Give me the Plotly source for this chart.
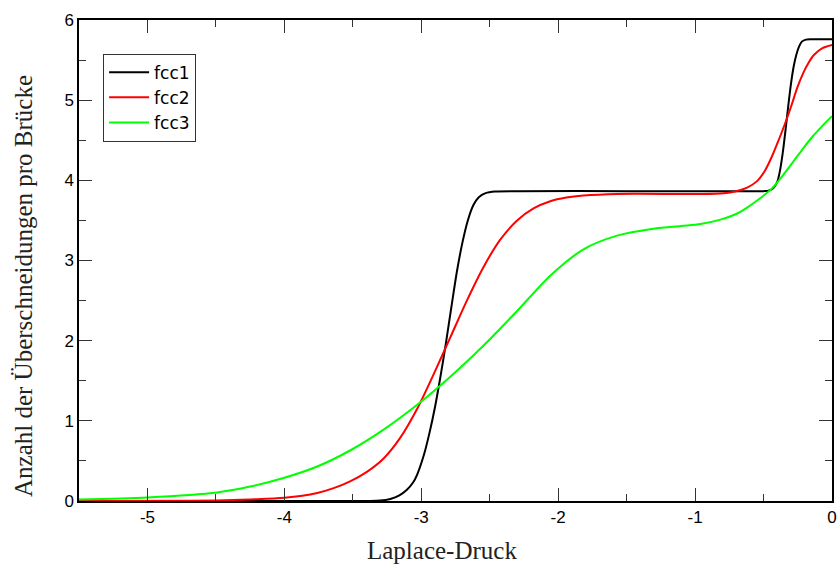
import plotly.graph_objects as go

# Laplace pressure samples and bridge crossing counts for three fcc packings
fcc1_x = [-5.5, -4.0, -3.4, -3.3, -3.226, -3.16, -3.105, -3.06, -3.03, -2.98, -2.94,
          -2.90, -2.86, -2.82, -2.78, -2.74, -2.70, -2.66, -2.62, -2.58, -2.53, -2.46,
          -2.3, -1.5, -0.6, -0.5, -0.463, -0.43, -0.40, -0.38, -0.36, -0.34, -0.32,
          -0.30, -0.28, -0.26, -0.24, -0.22, -0.19, -0.15, 0.0]
fcc1_y = [0.0, 0.0, 0.001, 0.005, 0.025, 0.07, 0.14, 0.23, 0.33, 0.58, 0.85,
          1.17, 1.55, 1.97, 2.42, 2.86, 3.22, 3.50, 3.69, 3.79, 3.84, 3.86,
          3.865, 3.865, 3.865, 3.865, 3.87, 3.90, 3.98, 4.12, 4.34, 4.62, 4.92,
          5.20, 5.42, 5.57, 5.67, 5.73, 5.755, 5.76, 5.76]

fcc2_x = [-5.5, -4.8, -4.5, -4.25, -4.0, -3.76, -3.64, -3.52, -3.40, -3.275, -3.153,
          -3.03, -2.91, -2.788, -2.667, -2.545, -2.423, -2.30, -2.18, -2.058, -1.94,
          -1.815, -1.57, -0.96, -0.79, -0.70, -0.62, -0.547, -0.49, -0.438, -0.39,
          -0.336, -0.295, -0.255, -0.207, -0.17, -0.134, -0.07, 0.0]
fcc2_y = [0.0, 0.002, 0.007, 0.02, 0.04, 0.10, 0.16, 0.245, 0.36, 0.53, 0.79,
          1.15, 1.58, 2.04, 2.50, 2.92, 3.26, 3.50, 3.65, 3.74, 3.785,
          3.81, 3.83, 3.83, 3.84, 3.865, 3.91, 3.99, 4.12, 4.30, 4.50,
          4.74, 4.94, 5.15, 5.35, 5.47, 5.56, 5.65, 5.69]

fcc3_x = [-5.5, -5.0, -4.49, -4.25, -4.0, -3.76, -3.52, -3.275, -3.03, -2.788, -2.545,
          -2.30, -2.058, -1.815, -1.57, -1.33, -1.1, -0.96, -0.815, -0.70, -0.62,
          -0.53, -0.438, -0.36, -0.28, -0.21, -0.14, -0.07, 0.0]
fcc3_y = [0.02, 0.045, 0.107, 0.18, 0.29, 0.43, 0.63, 0.89, 1.20, 1.55, 1.94,
          2.37, 2.81, 3.14, 3.31, 3.39, 3.43, 3.455, 3.51, 3.58, 3.66,
          3.77, 3.90, 4.06, 4.24, 4.40, 4.55, 4.68, 4.80]

series = [
    ("fcc1", fcc1_x, fcc1_y, "#000000"),
    ("fcc2", fcc2_x, fcc2_y, "#ff0000"),
    ("fcc3", fcc3_x, fcc3_y, "#00ff00"),
]

x_ticks = [-5, -4, -3, -2, -1, 0]
y_ticks = [0, 1, 2, 3, 4, 5, 6]
x_title = "Laplace-Druck"
y_title = "Anzahl der Überschneidungen pro Brücke"

fig = go.Figure()
for name, xs, ys, color in series:
    fig.add_trace(go.Scatter(
        x=xs, y=ys, name=name, mode="lines",
        line=dict(color=color, width=2, shape="spline", smoothing=0.8),
    ))

serif = "Liberation Serif"
sans = "Liberation Sans"

axis_common = dict(
    showgrid=False, zeroline=False,
    showline=True, linecolor="black", linewidth=1.5,
    mirror="ticks", ticks="inside", ticklen=13, tickwidth=1, tickcolor="#333333",
    tickfont=dict(family=sans, size=17, color="black"),
)

fig.update_xaxes(
    range=[-5.5, 0], tickvals=x_ticks, ticktext=[str(v) for v in x_ticks],
    minor=dict(dtick=0.5, ticks="inside", ticklen=7, tickwidth=1, tickcolor="#333333"),
    **axis_common,
)
fig.update_yaxes(
    range=[0, 6], tickvals=y_ticks, ticktext=[str(v) for v in y_ticks],
    minor=dict(dtick=0.5, ticks="inside", ticklen=7, tickwidth=1, tickcolor="#333333"),
    **axis_common,
)

# axis titles placed as paper-anchored text
fig.add_annotation(
    text=x_title, xref="paper", yref="paper", x=0.4816, y=-0.103,
    xanchor="center", yanchor="middle", showarrow=False,
    font=dict(family=serif, size=25, color="#222222"),
)
fig.add_annotation(
    text=y_title, xref="paper", yref="paper", x=-0.073, y=0.447,
    xanchor="center", yanchor="middle", textangle=-90, showarrow=False,
    font=dict(family=serif, size=25, color="#222222"),
)

fig.update_layout(
    width=840, height=565,
    margin=dict(l=79, r=8, t=20, b=64, autoexpand=False),
    paper_bgcolor="white", plot_bgcolor="white",
    showlegend=True,
    legend=dict(
        x=0.032, y=0.93, xanchor="left", yanchor="top",
        bgcolor="white", bordercolor="#333333", borderwidth=1,
        font=dict(family="DejaVu Sans", size=17, color="black"),
        itemwidth=40, tracegroupgap=0,
    ),
)

fig.write_html("out.html")
